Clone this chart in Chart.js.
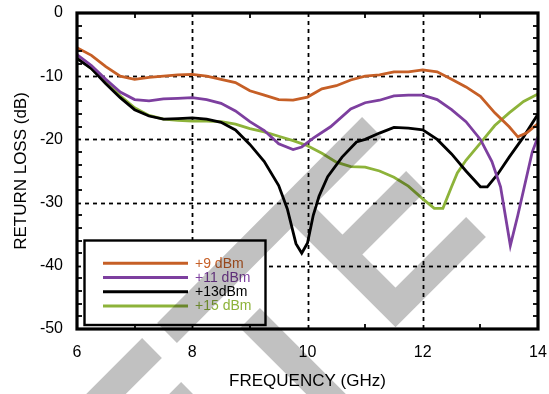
<!DOCTYPE html>
<html>
<head>
<meta charset="utf-8">
<script src="https://cdn.jsdelivr.net/npm/chart.js@4/dist/chart.umd.min.js"></script>
<style>
  html, body { margin: 0; padding: 0; background: #fff; }
  #wrap { width: 549px; height: 394px; }
</style>
</head>
<body>
<div id="wrap"><canvas id="c" width="549" height="394"></canvas></div>
<script>
// Return loss versus frequency at four drive levels
const seriesLabels = ['+9 dBm', '+11 dBm', '+13dBm', '+15 dBm'];
const seriesColors = ['#c65f26', '#7d3f9f', '#000000', '#8db33a'];

const freq9 = [6.0, 6.25, 6.5, 6.75, 7.0, 7.25, 7.5, 7.75, 8.0, 8.25, 8.5, 8.75, 9.0, 9.25, 9.5, 9.75, 10.0, 10.25, 10.5, 10.75, 11.0, 11.25, 11.5, 11.75, 12.0, 12.25, 12.5, 12.75, 13.0, 13.25, 13.5, 13.65, 13.8, 14.0];
const rl9   = [-5.5, -6.7, -8.5, -10.0, -10.5, -10.2, -10.0, -9.8, -9.7, -10.0, -10.5, -11.0, -12.3, -13.0, -13.7, -13.8, -13.3, -12.0, -11.5, -10.6, -10.0, -9.8, -9.3, -9.3, -9.0, -9.3, -10.5, -11.7, -13.2, -15.8, -18.0, -19.6, -19.0, -17.5];

const freq11 = [6.0, 6.25, 6.5, 6.75, 7.0, 7.25, 7.5, 7.75, 8.0, 8.25, 8.5, 8.75, 9.0, 9.25, 9.5, 9.75, 9.9, 10.1, 10.4, 10.75, 11.0, 11.25, 11.5, 11.75, 12.0, 12.25, 12.5, 12.75, 13.0, 13.2, 13.35, 13.52, 13.65, 13.75, 13.9, 14.0];
const rl11   = [-6.6, -8.3, -10.5, -12.5, -13.7, -13.9, -13.6, -13.5, -13.4, -13.7, -14.3, -15.5, -17.2, -18.6, -20.7, -21.6, -21.2, -19.8, -18.0, -15.2, -14.2, -13.8, -13.1, -13.0, -13.0, -13.7, -15.3, -17.2, -20.0, -23.5, -27.5, -36.8, -32.0, -28.0, -22.0, -19.6];

const freq13 = [6.0, 6.25, 6.5, 6.75, 7.0, 7.25, 7.5, 7.75, 8.0, 8.25, 8.5, 8.75, 9.0, 9.25, 9.5, 9.65, 9.8, 9.9, 10.0, 10.1, 10.2, 10.35, 10.6, 10.85, 11.0, 11.25, 11.5, 11.75, 12.0, 12.25, 12.5, 12.75, 13.0, 13.12, 13.3, 13.5, 13.75, 14.0];
const rl13   = [-7.2, -8.8, -11.2, -13.4, -15.3, -16.3, -16.8, -16.7, -16.6, -16.8, -17.3, -18.5, -20.8, -23.5, -27.3, -31.0, -36.5, -38.0, -36.4, -32.0, -29.0, -25.9, -22.8, -20.4, -20.0, -19.0, -18.1, -18.2, -18.5, -20.0, -22.3, -25.0, -27.5, -27.5, -25.5, -22.8, -19.6, -16.0];

const freq15 = [6.0, 6.25, 6.5, 6.75, 7.0, 7.25, 7.5, 7.75, 8.0, 8.25, 8.5, 8.75, 9.0, 9.25, 9.5, 9.75, 10.0, 10.25, 10.5, 10.75, 11.0, 11.25, 11.5, 11.75, 12.0, 12.2, 12.35, 12.5, 12.6, 12.75, 13.0, 13.25, 13.5, 13.75, 14.0];
const rl15   = [-7.1, -8.8, -10.9, -13.1, -15.0, -16.2, -16.8, -17.0, -17.1, -17.1, -17.2, -17.6, -18.3, -18.8, -19.5, -20.2, -21.0, -22.2, -23.6, -24.3, -24.4, -25.0, -26.0, -27.4, -29.4, -30.9, -30.9, -27.5, -25.3, -23.3, -20.6, -17.8, -15.8, -14.0, -12.8];

// axis ranges and ticks
const xTicks = [6, 8, 10, 12, 14];
const yTicks = [0, -10, -20, -30, -40, -50];
const xMinor = [7, 9, 11, 13];
const yMinorStep = 2;

const FONT = "'Liberation Sans', Arial, Helvetica, sans-serif";
const FRAME_COLOR = '#000000';

function toPoints(xs, ys) { return xs.map((x, i) => ({ x: x, y: ys[i] })); }

const freqs = [freq9, freq11, freq13, freq15];
const losses = [rl9, rl11, rl13, rl15];

const datasets = seriesLabels.map((lab, i) => ({
  label: lab,
  data: toPoints(freqs[i], losses[i]),
  borderColor: seriesColors[i],
  borderWidth: 2.8,
  pointRadius: 0,
  tension: 0,
  fill: false
}));

// Diagonal grey logo strokes laid over the whole canvas (canvas pixels)
const logoStrokes = [
  [[372, 127], [167, 333]],
  [[152, 348], [30, 470]],
  [[292.5, 204.5], [395.5, 307.5], [476, 227]],
  [[342.5, 254.5], [416, 181]],
  [[250, 318], [380, 448]],
  [[191, 392], [140, 443]]
];

function drawGrid(chart) {
  const { ctx, chartArea: a, scales: { x, y } } = chart;
  ctx.save();
  ctx.strokeStyle = '#000';
  ctx.lineWidth = 1.8;
  ctx.setLineDash([4, 4]);
  xTicks.slice(1, -1).forEach(v => {
    const px = Math.round(x.getPixelForValue(v)) + 0.5;
    ctx.beginPath(); ctx.moveTo(px, a.top); ctx.lineTo(px, a.bottom); ctx.stroke();
  });
  yTicks.slice(1, -1).forEach(v => {
    const py = Math.round(y.getPixelForValue(v)) + 0.5;
    ctx.beginPath(); ctx.moveTo(a.left, py); ctx.lineTo(a.right, py); ctx.stroke();
  });
  ctx.restore();
}

function drawFrame(chart) {
  const { ctx, chartArea: a, scales: { x, y } } = chart;
  ctx.save();
  ctx.setLineDash([]);
  ctx.strokeStyle = FRAME_COLOR;
  ctx.lineWidth = 1.8;
  const tl = 5;
  xMinor.forEach(v => {
    const px = Math.round(x.getPixelForValue(v));
    ctx.beginPath(); ctx.moveTo(px, a.bottom); ctx.lineTo(px, a.bottom - tl); ctx.stroke();
    ctx.beginPath(); ctx.moveTo(px, a.top); ctx.lineTo(px, a.top + tl); ctx.stroke();
  });
  for (let v = -yMinorStep; v > -50; v -= yMinorStep) {
    if (v % 10 === 0) continue;
    const py = Math.round(y.getPixelForValue(v));
    ctx.beginPath(); ctx.moveTo(a.left, py); ctx.lineTo(a.left + tl, py); ctx.stroke();
    ctx.beginPath(); ctx.moveTo(a.right, py); ctx.lineTo(a.right - tl, py); ctx.stroke();
  }
  ctx.lineWidth = 3.2;
  ctx.strokeRect(a.left, a.top, a.right - a.left, a.bottom - a.top);
  ctx.restore();
}

function drawLegend(chart) {
  const { ctx } = chart;
  ctx.save();
  const bx = 84.5, by = 240.5, bw = 181, bh = 84.5;
  ctx.fillStyle = '#fff';
  ctx.fillRect(bx, by, bw, bh);
  ctx.strokeStyle = '#000';
  ctx.lineWidth = 2.4;
  ctx.strokeRect(bx, by, bw, bh);
  const rowY = [263.3, 277.5, 291.7, 306];
  ctx.font = '14px ' + FONT;
  ctx.textBaseline = 'middle';
  ctx.textAlign = 'left';
  chart.data.datasets.forEach((ds, i) => {
    ctx.strokeStyle = ds.borderColor;
    ctx.lineWidth = 3;
    ctx.beginPath();
    ctx.moveTo(103, rowY[i]); ctx.lineTo(188, rowY[i]);
    ctx.stroke();
    ctx.fillStyle = ds.borderColor;
    ctx.fillText(ds.label, 195, rowY[i] + 0.5);
  });
  ctx.restore();
}

function drawLogo(chart) {
  const { ctx } = chart;
  ctx.save();
  ctx.strokeStyle = 'rgba(0,0,0,0.245)';
  ctx.lineWidth = 28;
  ctx.lineCap = 'butt';
  ctx.lineJoin = 'miter';
  ctx.beginPath();
  logoStrokes.forEach(s => {
    ctx.moveTo(s[0][0], s[0][1]);
    for (let k = 1; k < s.length; k++) ctx.lineTo(s[k][0], s[k][1]);
  });
  ctx.stroke();
  ctx.restore();
}

const framePlugin = {
  id: 'plotFrame',
  beforeDatasetsDraw(chart) { drawGrid(chart); },
  afterDraw(chart) {
    drawFrame(chart);
    drawLegend(chart);
    drawLogo(chart);
  }
};

new Chart(document.getElementById('c'), {
  type: 'line',
  data: { datasets: datasets },
  options: {
    responsive: false,
    animation: false,
    devicePixelRatio: 1,
    layout: { padding: { top: 13, right: 11, left: 0, bottom: 0 } },
    plugins: { legend: { display: false }, tooltip: { enabled: false } },
    scales: {
      x: {
        type: 'linear', min: 6, max: 14,
        afterBuildTicks: s => { s.ticks = xTicks.map(v => ({ value: v })); },
        afterFit: s => { s.height = 65; s.paddingLeft = 0; s.paddingRight = 0; },
        grid: { display: false, drawTicks: false },
        border: { display: false },
        ticks: { color: '#000', font: { family: FONT, size: 16 }, padding: 14, maxRotation: 0 },
        title: { display: true, text: 'FREQUENCY (GHz)', color: '#000', font: { family: FONT, size: 17 }, padding: { top: 0, bottom: 2 } }
      },
      y: {
        type: 'linear', min: -50, max: 0,
        afterBuildTicks: s => { s.ticks = yTicks.map(v => ({ value: v })); },
        afterFit: s => { s.width = 77; s.paddingTop = 0; s.paddingBottom = 0; },
        grid: { display: false, drawTicks: false },
        border: { display: false },
        ticks: { color: '#000', font: { family: FONT, size: 16 }, padding: 14 },
        title: { display: true, text: 'RETURN LOSS (dB)', color: '#000', font: { family: FONT, size: 17 }, padding: { top: 11, bottom: 0 } }
      }
    }
  },
  plugins: [framePlugin]
});
</script>
</body>
</html>
